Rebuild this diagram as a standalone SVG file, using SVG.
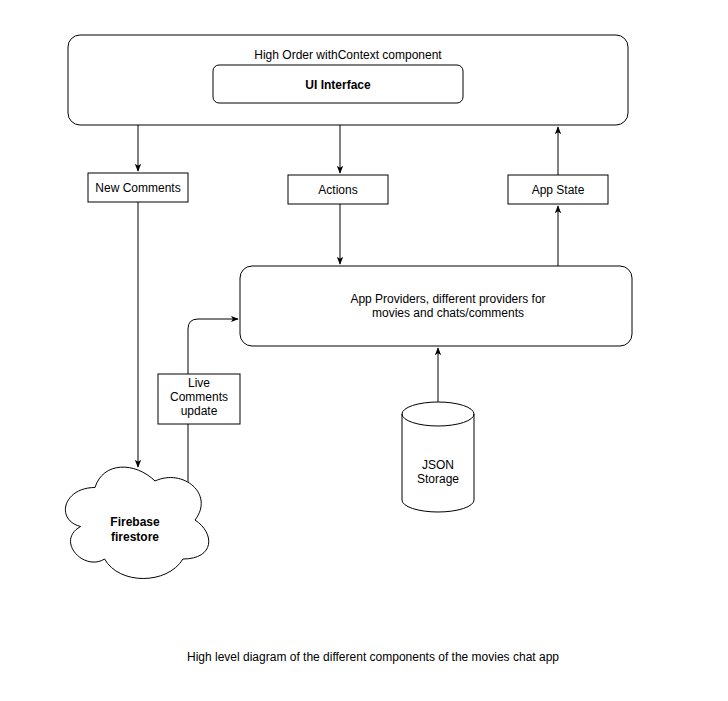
<svg xmlns="http://www.w3.org/2000/svg" width="728" height="701" viewBox="0 0 728 701">
<style>
.n{fill:#fff;stroke:#000;stroke-width:1}
.t{font-family:"Liberation Sans",Arial,sans-serif;font-size:12px;fill:#000;text-anchor:middle}
.b{font-weight:bold}
.c{fill:none;stroke:#000;stroke-width:1}
</style>
<defs>
<marker id="ah" viewBox="0 0 10 10" refX="9" refY="5" markerWidth="8" markerHeight="8" markerUnits="userSpaceOnUse" orient="auto">
<path d="M0,1 L10,5 L0,9 L2.5,5 Z" fill="#000"/>
</marker>
</defs>
<rect width="728" height="701" fill="#fff"/>
<g id="outer">
<rect class="n" x="68" y="35" width="560" height="90" rx="12"/>
<text class="t" x="348" y="59">High Order withContext component</text>
</g>
<g id="ui">
<rect class="n" x="213" y="65" width="250" height="38" rx="6"/>
<text class="t b" x="338" y="89">UI Interface</text>
</g>
<g id="newcomments">
<rect class="n" x="88" y="173" width="100" height="29"/>
<text class="t" x="138" y="192">New Comments</text>
</g>
<g id="actions">
<rect class="n" x="288" y="175" width="100" height="29"/>
<text class="t" x="338" y="194">Actions</text>
</g>
<g id="appstate">
<rect class="n" x="508" y="175" width="100" height="29"/>
<text class="t" x="558" y="194">App State</text>
</g>
<g id="providers">
<rect class="n" x="240" y="266" width="392" height="80" rx="12"/>
<text class="t" x="448" y="303">App Providers, different providers for</text>
<text class="t" x="448" y="317">movies and chats/comments</text>
</g>
<g id="connectors">
<path class="c" d="M138,125 V171" marker-end="url(#ah)"/>
<path class="c" d="M340,125 V173" marker-end="url(#ah)"/>
<path class="c" d="M340,204 V264" marker-end="url(#ah)"/>
<path class="c" d="M558,266 V206" marker-end="url(#ah)"/>
<path class="c" d="M558,175 V127" marker-end="url(#ah)"/>
<path class="c" d="M138,202 V467" marker-end="url(#ah)"/>
<path class="c" d="M188,492 V329 Q188,319 198,319 H238" marker-end="url(#ah)"/>
<path class="c" d="M438,402 V348" marker-end="url(#ah)"/>
</g>
<g id="live">
<rect class="n" x="158" y="374" width="82" height="50"/>
<text class="t" x="199" y="387">Live</text>
<text class="t" x="199" y="401">Comments</text>
<text class="t" x="199" y="415">update</text>
</g>
<g id="firebase">
<path class="n" d="M95,487.5 C63,487.5 55,520 80.6,526.5 C55,540.8 83.8,572 104.6,559 C119,585 167,585 183,559 C215,559 215,533 195,520 C215,494 183,468 155,481 C135,461.5 103,461.5 95,487.5 Z"/>
<text class="t b" x="135" y="526">Firebase</text>
<text class="t b" x="135" y="541">firestore</text>
</g>
<g id="json">
<path class="n" d="M402,414 A36,12 0 0 1 474,414 V500 A36,12 0 0 1 402,500 Z"/>
<path class="c" d="M402,414 A36,12 0 0 0 474,414"/>
<text class="t" x="438" y="469">JSON</text>
<text class="t" x="438" y="483">Storage</text>
</g>
<text class="t" x="373" y="661">High level diagram of the different components of the movies chat app</text>
</svg>
